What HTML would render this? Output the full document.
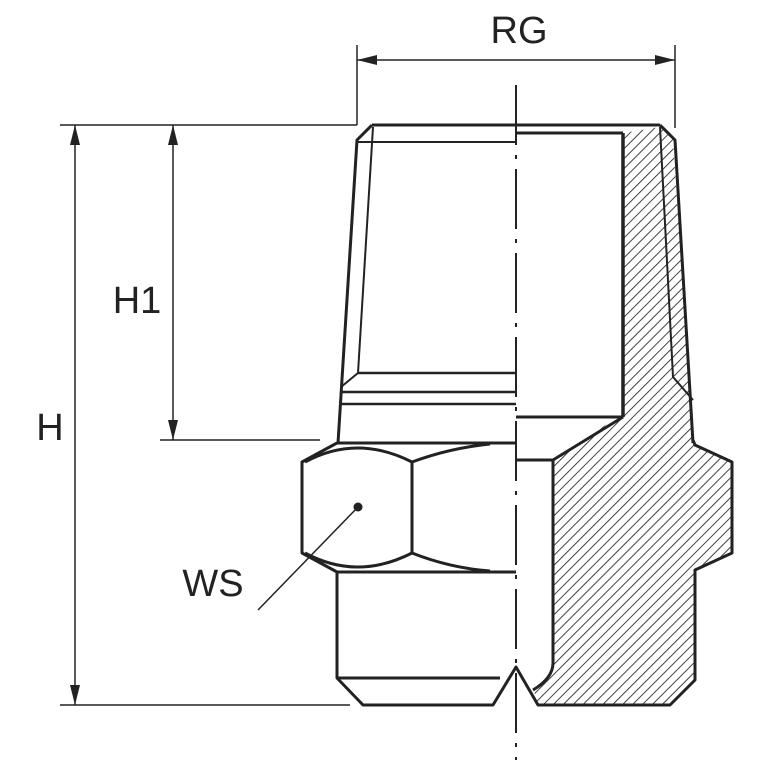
<!DOCTYPE html>
<html><head><meta charset="utf-8"><style>html,body{margin:0;padding:0;background:#fff}</style></head><body>
<svg width="767" height="767" viewBox="0 0 767 767" xmlns="http://www.w3.org/2000/svg">
<defs>
<pattern id="h" width="7" height="7" patternUnits="userSpaceOnUse" patternTransform="rotate(45)">
<line x1="0" y1="0" x2="0" y2="7" stroke="#222" stroke-width="1.7"/>
</pattern>
<marker id="a" viewBox="0 0 20 10" refX="20" refY="5" markerWidth="20" markerHeight="10" markerUnits="userSpaceOnUse" orient="auto-start-reverse">
<path d="M0,0 L20,5 L0,10 z" fill="#222"/>
</marker>
</defs>
<g fill="none" stroke="#222" stroke-linejoin="round">
<path d="M623,133 L660,127 L673,140 L693,440 L695,445 L732,462 L732,553 L695,570 L695,680 L670,705 L538,705 L533,687 Q553,675 553,663 L553,460 L613,420 L623,417 Z" fill="url(#h)" stroke="none"/>
<g stroke-width="3">
<line x1="372" y1="125" x2="660" y2="125"/>
<path d="M372,125 L357,140 L338,443"/>
<path d="M660,125 L675,140 L693,443"/>
<line x1="357" y1="142" x2="516" y2="142" stroke-width="2"/>
<path d="M373,127 L358,373 L341,387" stroke-width="2"/>
<line x1="358" y1="373" x2="516" y2="373" stroke-width="2.5"/>
<line x1="341" y1="392" x2="516" y2="392" stroke-width="2.5"/>
<line x1="341" y1="404" x2="516" y2="404" stroke-width="2.5"/>
<path d="M660,127 L673,377 L693,400" stroke-width="2"/>
<line x1="516" y1="133" x2="623" y2="133"/>
<line x1="623" y1="133" x2="623" y2="417" stroke-width="3.5"/>
<line x1="516" y1="417" x2="623" y2="417"/>
<path d="M623,417 L553,460"/>
<line x1="516" y1="460" x2="553" y2="460"/>
<path d="M553,460 L553,663 Q553,678 533,690"/>
<line x1="337" y1="443" x2="516" y2="443"/>
<path d="M337,443 L302,462 L302,553 L337,572"/>
<line x1="337" y1="572" x2="516" y2="572"/>
<line x1="412" y1="462" x2="412" y2="553"/>
<path d="M305,462 Q357,434 412,462"/>
<path d="M305,553 Q357,581 412,553"/>
<path d="M412,462 Q450,448 490,444"/>
<path d="M412,553 Q450,568 490,571"/>
<path d="M693,440 L695,445 L732,462 L732,553 L695,570 L695,680 L670,705 L538,705 L516,667 L493,705 L363,705 L337,678 L337,572"/>
<line x1="337" y1="678" x2="500" y2="678"/>
</g>
<line x1="516" y1="85" x2="516" y2="760" stroke-width="2" stroke-dasharray="60,10,4,10"/>
<g stroke-width="1.5">
<line x1="357" y1="45" x2="357" y2="125"/>
<line x1="675" y1="45" x2="675" y2="128"/>
<line x1="357" y1="60" x2="675" y2="60" marker-start="url(#a)" marker-end="url(#a)"/>
<line x1="60" y1="125" x2="357" y2="125"/>
<line x1="60" y1="705" x2="350" y2="705"/>
<line x1="75" y1="125" x2="75" y2="705" marker-start="url(#a)" marker-end="url(#a)"/>
<line x1="160" y1="440" x2="320" y2="440"/>
<line x1="173" y1="125" x2="173" y2="440" marker-start="url(#a)" marker-end="url(#a)"/>
<line x1="358" y1="507" x2="258" y2="610"/>
</g>
</g>
<circle cx="358" cy="507" r="4.5" fill="#222"/>
<g font-family="Liberation Sans, sans-serif" font-size="38" fill="#222">
<text x="519" y="43" text-anchor="middle">RG</text>
<text x="50" y="440" text-anchor="middle">H</text>
<text x="137" y="313" text-anchor="middle">H1</text>
<text x="213" y="596" text-anchor="middle">WS</text>
</g>
</svg>
</body></html>
